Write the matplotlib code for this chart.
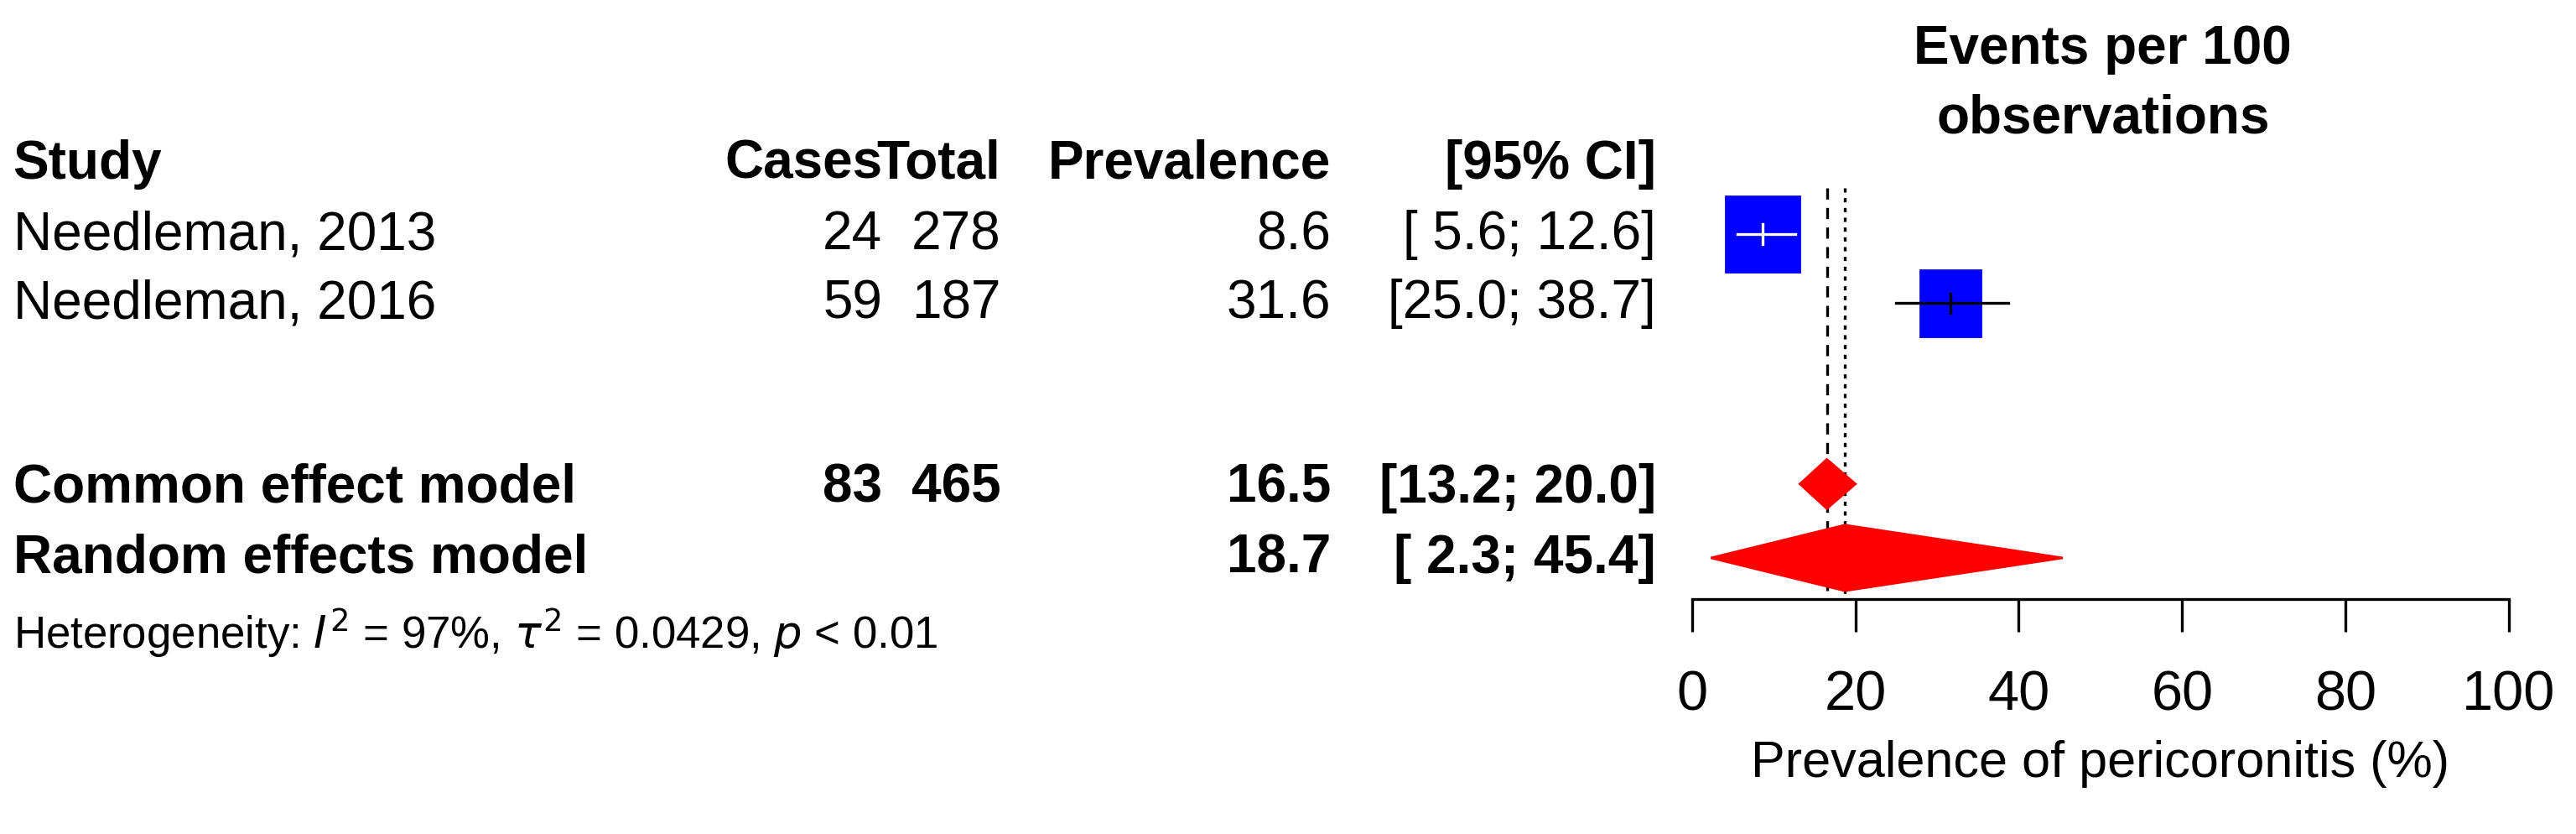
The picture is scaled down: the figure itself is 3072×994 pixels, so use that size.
import matplotlib
matplotlib.use("Agg")
import matplotlib.pyplot as plt
from matplotlib.patches import Rectangle, Polygon

studies = ["Needleman, 2013", "Needleman, 2016"]
cases = [24, 59]
totals = [278, 187]
prev = [8.6, 31.6]
lo = [5.6, 25.0]
hi = [12.6, 38.7]
ci_txt = ["[ 5.6; 12.6]", "[25.0; 38.7]"]
common = (16.5, 13.2, 20.0)
random_ = (18.7, 2.3, 45.4)
xticks = [0, 20, 40, 60, 80, 100]

plt.rcParams['font.family'] = ['Liberation Sans', 'DejaVu Sans']
W, H = 1568, 508
fig = plt.figure(figsize=(15.36, 4.975), dpi=200)
ov = fig.add_axes([0, 0, 1, 1]); ov.set_xlim(0, W); ov.set_ylim(H, 0); ov.axis('off')
fs = 23
def t(x, y, s, ha='left', bold=False):
    ov.text(x, y, s, ha=ha, va='center', fontsize=fs, fontweight='bold' if bold else 'normal')

t(8, 100, "Study", bold=True); t(537, 100, "Cases", 'right', True); t(609, 100, "Total", 'right', True)
t(810, 100, "Prevalence", 'right', True); t(1008, 100, "[95% CI]", 'right', True)
t(1280, 30, "Events per 100", 'center', True); t(1280, 72, "observations", 'center', True)
rows = [143, 185]
for i in range(2):
    y = rows[i]
    t(8, y, studies[i]); t(537, y, str(cases[i]), 'right'); t(609, y, str(totals[i]), 'right')
    t(810, y, f"{prev[i]:.1f}", 'right'); t(1008, y, ci_txt[i], 'right')
t(8, 297, "Common effect model", bold=True); t(537, 297, str(sum(cases)), 'right', True)
t(609, 297, str(sum(totals)), 'right', True); t(810, 297, f"{common[0]:.1f}", 'right', True)
t(1008, 297, f"[{common[1]:.1f}; {common[2]:.1f}]", 'right', True)
t(8, 340, "Random effects model", bold=True); t(810, 340, f"{random_[0]:.1f}", 'right', True)
t(1008, 340, f"[{random_[1]:4.1f}; {random_[2]:.1f}]", 'right', True)
ov.text(8, 385, r"Heterogeneity: $\mathit{I}^2$ = 97%, $\tau^2$ = 0.0429, $\mathit{p}$ < 0.01",
        ha='left', va='center', fontsize=19)

x0, x1, ytop, ybot = 1030, 1527, 0, 365
ax = fig.add_axes([x0/W, 1-ybot/H, (x1-x0)/W, (ybot-ytop)/H])
ax.set_xlim(0, 100); ax.set_ylim(ybot, ytop)
ax.patch.set_alpha(0)
for s in ['top', 'left', 'right']: ax.spines[s].set_visible(False)
ax.spines['bottom'].set_linewidth(1.2)
ax.set_xticks(xticks); ax.set_yticks([])
ax.tick_params(axis='x', length=14, width=1.2, labelsize=24, pad=16)
ax.set_xlabel("Prevalence of pericoronitis (%)", fontsize=22, labelpad=8)

sizes = [9.0, 7.4]; hs = [46, 40]
for i in range(2):
    y = rows[i]
    c = 'white' if i == 0 else 'black'
    ax.add_patch(Rectangle((prev[i]-sizes[i]/2, y-hs[i]/2), sizes[i], hs[i], color='blue', zorder=2))
    ax.plot([lo[i], hi[i]], [y, y], color=c, lw=1.2, zorder=3)
    ax.plot([prev[i]]*2, [y-6, y+6], color=c, lw=1.2, zorder=3)
ax.plot([common[0]]*2, [115, ybot], color='black', ls=(0, (4, 3)), lw=1.2)
ax.plot([random_[0]]*2, [115, ybot], color='black', ls=(0, (1.5, 2)), lw=1.2)
ax.add_patch(Polygon([(common[1], 295), (common[0], 280), (common[2], 295), (common[0], 310)], color='red', zorder=4))
ax.add_patch(Polygon([(random_[1], 340), (random_[0], 320), (random_[2], 340), (random_[0], 360)], color='red', zorder=4))
fig.savefig("out.png", dpi=200)
